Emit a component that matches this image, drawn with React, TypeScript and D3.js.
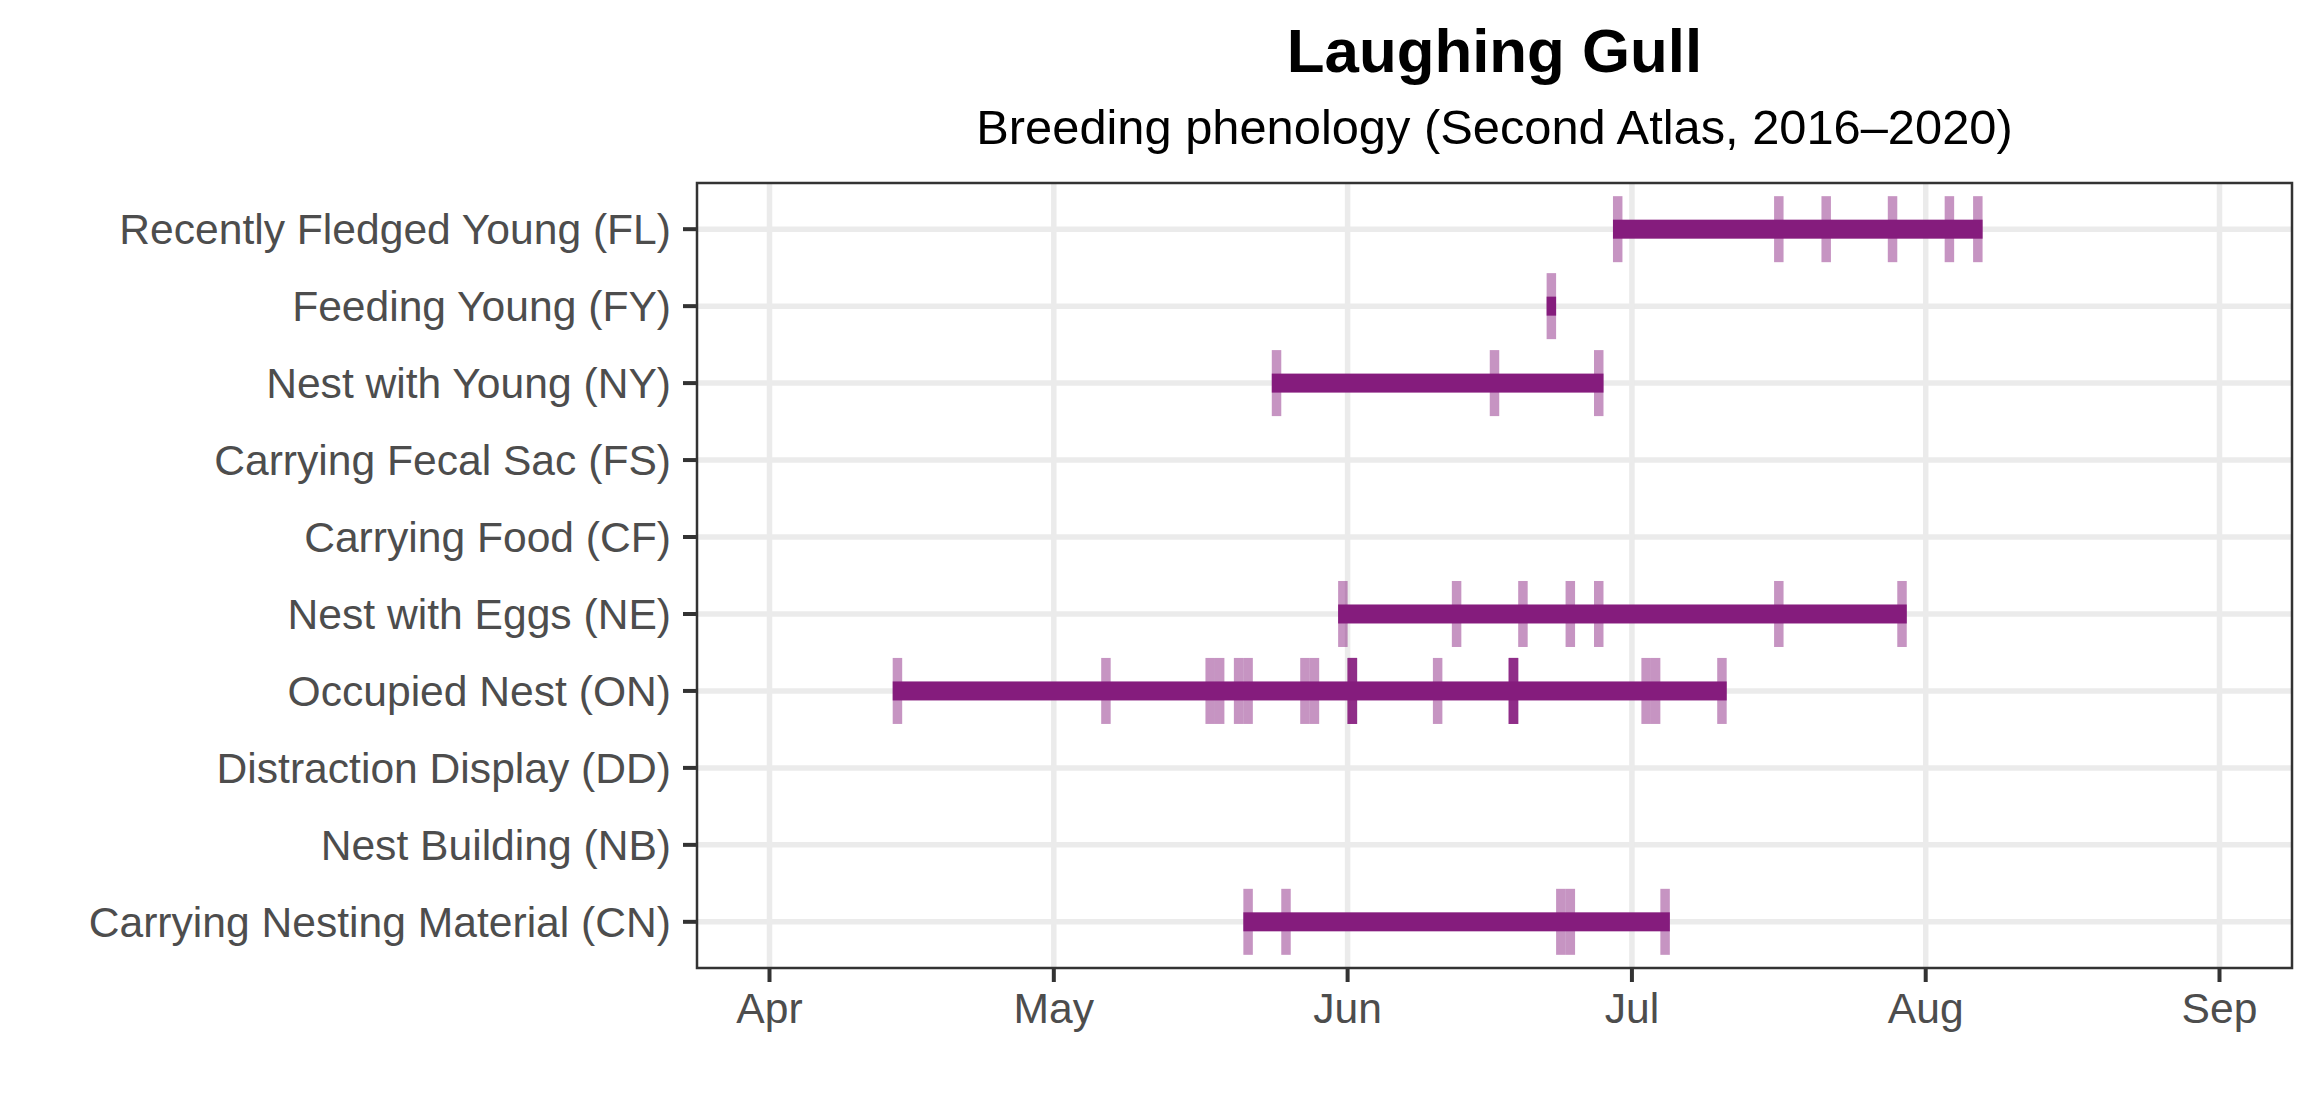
import React, { useEffect, useRef } from 'react';
import * as d3 from 'd3';

// breeding codes, top to bottom
const codes: string[] = ['FL', 'FY', 'NY', 'FS', 'CF', 'NE', 'ON', 'DD', 'NB', 'CN'];
const codeLabels: string[] = [
  'Recently Fledged Young (FL)',
  'Feeding Young (FY)',
  'Nest with Young (NY)',
  'Carrying Fecal Sac (FS)',
  'Carrying Food (CF)',
  'Nest with Eggs (NE)',
  'Occupied Nest (ON)',
  'Distraction Display (DD)',
  'Nest Building (NB)',
  'Carrying Nesting Material (CN)'
];

// observation dates (month-day) per code
const obsFL: string[] = ['06-29', '07-16', '07-21', '07-28', '08-03', '08-06'];
const obsFY: string[] = ['06-22'];
const obsNY: string[] = ['05-24', '06-16', '06-27'];
const obsNE: string[] = ['05-31', '06-12', '06-19', '06-24', '06-27', '07-16', '07-29'];
const obsON: string[] = [
  '04-14', '05-06', '05-17', '05-18', '05-20', '05-21', '05-27', '05-28',
  '06-01', '06-01', '06-01', '06-01', '06-10',
  '06-18', '06-18', '06-18', '06-18', '07-02', '07-03', '07-10'
];
const obsCN: string[] = ['05-21', '05-25', '06-23', '06-24', '07-04'];

const monthTicks: string[] = ['04-01', '05-01', '06-01', '07-01', '08-01', '09-01'];
const monthLabels: string[] = ['Apr', 'May', 'Jun', 'Jul', 'Aug', 'Sep'];

const title = 'Laughing Gull';
const subtitle = 'Breeding phenology (Second Atlas, 2016\u20132020)';

const YEAR = 2019;
const parse = (md: string) => d3.timeParse('%Y-%m-%d')(`${YEAR}-${md}`) as Date;

const W = 2320;
const H = 1120;
const PURPLE = '#851C7D';

export default function App() {
  const svgRef = useRef<SVGSVGElement>(null);

  useEffect(() => {
    if (!svgRef.current) return;
    const svg = d3.select(svgRef.current);
    svg.selectAll('*').remove();

    const left = 697, right = 2292, top = 183, bottom = 968;

    const start = parse('04-01');
    const end = parse('09-01');
    const pad = (end.getTime() - start.getTime()) * 0.05;
    const x = d3.scaleTime()
      .domain([new Date(start.getTime() - pad), new Date(end.getTime() + pad)])
      .range([left, right]);
    const y = d3.scalePoint<string>()
      .domain(codes)
      .range([top, bottom])
      .padding(0.6);

    const obs: Record<string, string[]> = {
      FL: obsFL, FY: obsFY, NY: obsNY, FS: [], CF: [],
      NE: obsNE, ON: obsON, DD: [], NB: [], CN: obsCN
    };

    svg.append('rect')
      .attr('width', W).attr('height', H).attr('fill', '#ffffff');

    // grid
    const grid = svg.append('g');
    grid.selectAll('line.h')
      .data(codes)
      .enter().append('line')
      .attr('x1', left).attr('x2', right)
      .attr('y1', d => y(d)!).attr('y2', d => y(d)!)
      .attr('stroke', '#EBEBEB').attr('stroke-width', 5.5);
    grid.selectAll('line.v')
      .data(monthTicks)
      .enter().append('line')
      .attr('x1', d => x(parse(d))).attr('x2', d => x(parse(d)))
      .attr('y1', top).attr('y2', bottom)
      .attr('stroke', '#EBEBEB').attr('stroke-width', 5.5);

    // observation ticks
    const tickData = codes.flatMap(c => obs[c].map(md => ({ code: c, date: parse(md) })));
    svg.append('g')
      .selectAll('rect')
      .data(tickData)
      .enter().append('rect')
      .attr('x', d => x(d.date))
      .attr('width', d => x(d3.timeDay.offset(d.date, 1)) - x(d.date))
      .attr('y', d => y(d.code)! - 33)
      .attr('height', 66)
      .attr('fill', PURPLE)
      .attr('fill-opacity', 0.47);

    // range bars
    const barData = codes.filter(c => obs[c].length > 0).map(c => {
      const ds = obs[c].map(parse);
      return { code: c, first: d3.min(ds)!, last: d3.max(ds)! };
    });
    svg.append('g')
      .selectAll('rect')
      .data(barData)
      .enter().append('rect')
      .attr('x', d => x(d.first))
      .attr('width', d => x(d3.timeDay.offset(d.last, 1)) - x(d.first))
      .attr('y', d => y(d.code)! - 9.5)
      .attr('height', 19)
      .attr('fill', PURPLE);

    // panel border
    svg.append('rect')
      .attr('x', left).attr('y', top)
      .attr('width', right - left).attr('height', bottom - top)
      .attr('fill', 'none').attr('stroke', '#333333').attr('stroke-width', 2.5);

    const font = '"Liberation Sans", Arial, sans-serif';

    // y axis
    const yAxis = svg.append('g');
    yAxis.selectAll('line')
      .data(codes)
      .enter().append('line')
      .attr('x1', left - 14).attr('x2', left)
      .attr('y1', d => y(d)!).attr('y2', d => y(d)!)
      .attr('stroke', '#333333').attr('stroke-width', 4);
    yAxis.selectAll('text')
      .data(codes)
      .enter().append('text')
      .attr('x', left - 26)
      .attr('y', d => y(d)!)
      .attr('dy', '0.35em')
      .attr('text-anchor', 'end')
      .attr('font-family', font)
      .attr('font-size', 42.6)
      .attr('fill', '#4D4D4D')
      .text((d, i) => codeLabels[i]);

    // x axis
    const xAxis = svg.append('g');
    xAxis.selectAll('line')
      .data(monthTicks)
      .enter().append('line')
      .attr('x1', d => x(parse(d))).attr('x2', d => x(parse(d)))
      .attr('y1', bottom).attr('y2', bottom + 14)
      .attr('stroke', '#333333').attr('stroke-width', 4);
    xAxis.selectAll('text')
      .data(monthTicks)
      .enter().append('text')
      .attr('x', d => x(parse(d)))
      .attr('y', 1023)
      .attr('text-anchor', 'middle')
      .attr('font-family', font)
      .attr('font-size', 42.6)
      .attr('fill', '#4D4D4D')
      .text((d, i) => monthLabels[i]);

    // titles
    svg.append('text')
      .attr('x', (left + right) / 2).attr('y', 72)
      .attr('text-anchor', 'middle')
      .attr('font-family', font)
      .attr('font-weight', 'bold')
      .attr('font-size', 61.8)
      .attr('fill', '#000000')
      .text(title);
    svg.append('text')
      .attr('x', (left + right) / 2).attr('y', 144)
      .attr('text-anchor', 'middle')
      .attr('font-family', font)
      .attr('font-size', 48.8)
      .attr('fill', '#000000')
      .text(subtitle);
  }, []);

  return (
    <svg
      ref={svgRef}
      width={W}
      height={H}
      style={{ position: 'absolute', left: 0, top: 0, display: 'block' }}
    />
  );
}
